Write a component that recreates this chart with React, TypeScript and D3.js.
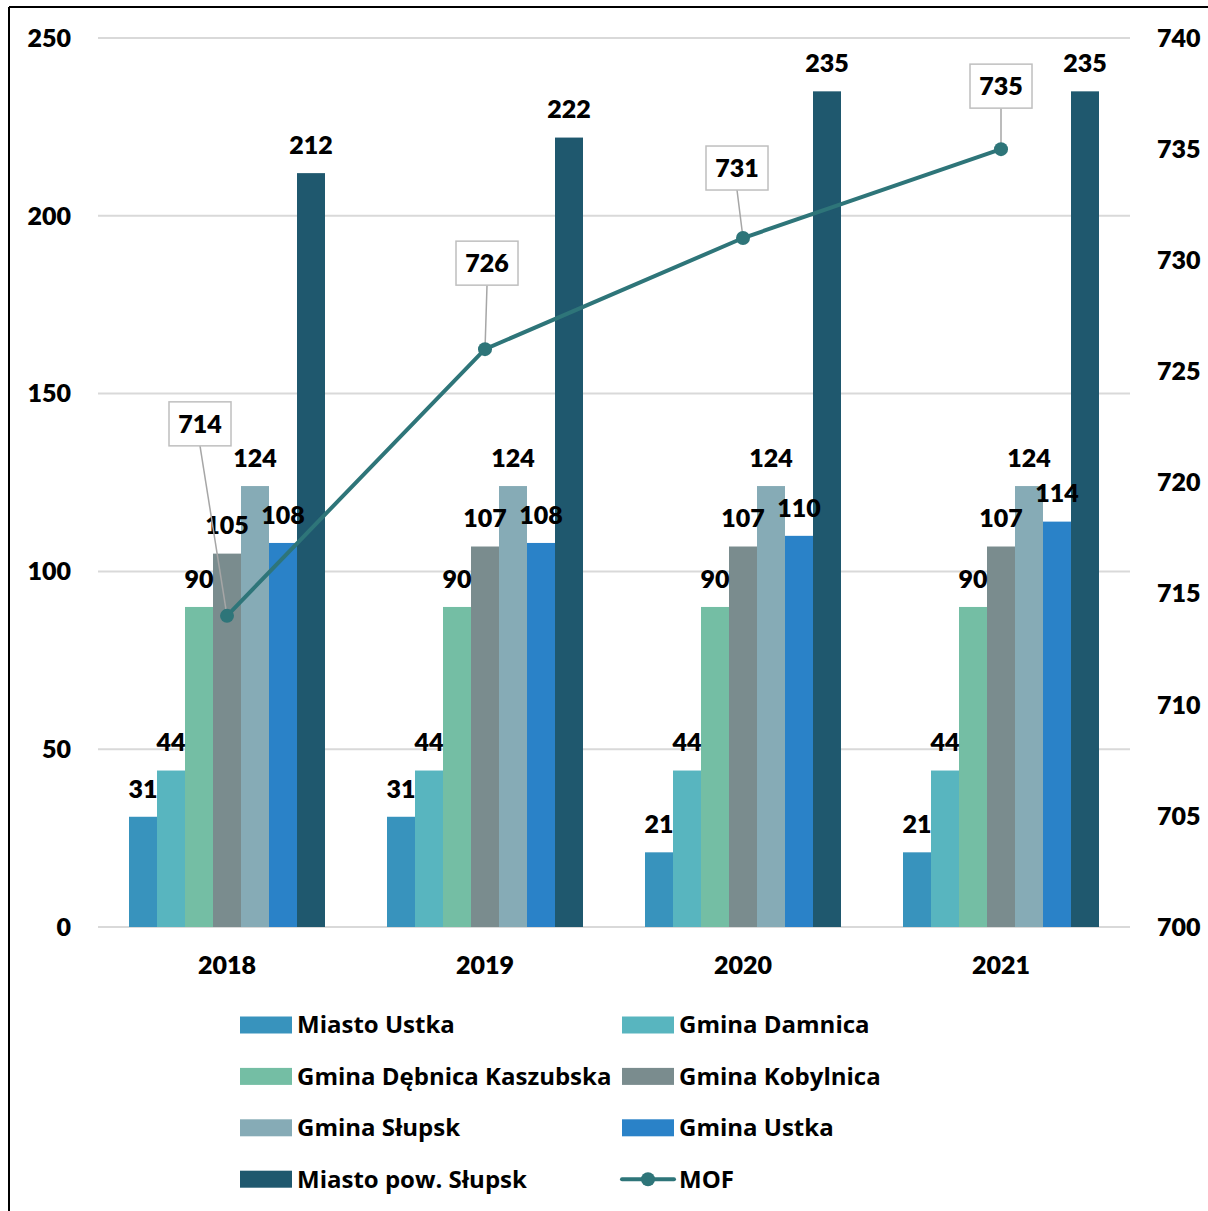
import React from "react";
import * as d3 from "d3";

const years = ["2018", "2019", "2020", "2021"];
const seriesNames = [
  "Miasto Ustka",
  "Gmina Damnica",
  "Gmina Dębnica Kaszubska",
  "Gmina Kobylnica",
  "Gmina Słupsk",
  "Gmina Ustka",
  "Miasto pow. Słupsk",
];
const miastoUstka = [31, 31, 21, 21];
const gminaDamnica = [44, 44, 44, 44];
const gminaDebnica = [90, 90, 90, 90];
const gminaKobylnica = [105, 107, 107, 107];
const gminaSlupsk = [124, 124, 124, 124];
const gminaUstka = [108, 108, 110, 114];
const miastoPowSlupsk = [212, 222, 235, 235];
const mof = [714, 726, 731, 735];
const leftTicks = [0, 50, 100, 150, 200, 250];
const rightTicks = [700, 705, 710, 715, 720, 725, 730, 735, 740];

const seriesValues = [miastoUstka, gminaDamnica, gminaDebnica, gminaKobylnica, gminaSlupsk, gminaUstka, miastoPowSlupsk];
const colors = ["#3893bd", "#58b5bf", "#74bea4", "#7a8c8e", "#86abb6", "#2a82c8", "#1f586e"];
const lineColor = "#2e7579";

const W = 1208;
const H = 1211;
const FONT = "Lato, 'Open Sans', sans-serif";
const LEGEND_FONT = "'Open Sans', Lato, sans-serif";

export default function App() {
  const x0 = d3.scaleBand<string>().domain(years).range([98, 1130]).paddingInner(0).paddingOuter(0);
  const groupW = 196;
  const x1 = d3.scaleBand<string>().domain(seriesNames).range([0, groupW]).padding(0);
  const yL = d3.scaleLinear().domain([0, 250]).range([927, 38]);
  const yR = d3.scaleLinear().domain([700, 740]).range([927, 38]);
  const cx = (y: string) => (x0(y) ?? 0) + x0.bandwidth() / 2;

  const line = d3
    .line<number>()
    .x((_, i) => cx(years[i]))
    .y((v) => yR(v));

  const boxOffsets = [
    { dx: -27, dy: -192 },
    { dx: 2, dy: -86 },
    { dx: -6, dy: -70 },
    { dx: 0, dy: -63 },
  ];

  const legendItems = [...seriesNames.map((n, i) => ({ name: n, color: colors[i], line: false })), { name: "MOF", color: lineColor, line: true }];

  return (
    <div style={{ position: "absolute", left: 0, top: 0 }}>
      <svg width={W} height={H} style={{ display: "block", background: "#fff" }} fontFamily={FONT}>
        {/* frame */}
        <line x1={9} y1={7} x2={W} y2={7} stroke="#000" strokeWidth={2} />
        <line x1={9} y1={7} x2={9} y2={H} stroke="#000" strokeWidth={2} />

        {/* gridlines */}
        {leftTicks.map((t) => (
          <line key={t} x1={98} x2={1130} y1={yL(t)} y2={yL(t)} stroke="#d9d9d9" strokeWidth={2} />
        ))}
        {/* left ticks */}
        {leftTicks.map((t) => (
          <text key={"l" + t} x={71} y={yL(t)} dy="0.35em" textAnchor="end" fontSize={25} fontWeight={800} fill="#000">
            {t}
          </text>
        ))}
        {rightTicks.map((t) => (
          <text key={"r" + t} x={1157} y={yR(t)} dy="0.35em" textAnchor="start" fontSize={25} fontWeight={800} fill="#000">
            {t}
          </text>
        ))}
        {/* year labels */}
        {years.map((y) => (
          <text key={"y" + y} x={cx(y)} y={965} dy="0.35em" textAnchor="middle" fontSize={25} fontWeight={800} fill="#000">
            {y}
          </text>
        ))}

        {/* bars */}
        {years.map((y, yi) => {
          const gx = cx(y) - groupW / 2;
          return (
            <g key={"g" + y}>
              {seriesNames.map((s, si) => {
                const v = seriesValues[si][yi];
                return (
                  <rect
                    key={s}
                    x={gx + (x1(s) ?? 0)}
                    y={yL(v)}
                    width={x1.bandwidth()}
                    height={yL(0) - yL(v)}
                    fill={colors[si]}
                  />
                );
              })}
            </g>
          );
        })}

        {/* bar labels */}
        {years.map((y, yi) => {
          const gx = cx(y) - groupW / 2;
          return (
            <g key={"bl" + y}>
              {seriesNames.map((s, si) => {
                const v = seriesValues[si][yi];
                return (
                  <text
                    key={s}
                    x={gx + (x1(s) ?? 0) + x1.bandwidth() / 2}
                    y={yL(v) - 28}
                    dy="0.35em"
                    textAnchor="middle"
                    fontSize={25}
                    fontWeight={800}
                    fill="#000"
                  >
                    {v}
                  </text>
                );
              })}
            </g>
          );
        })}

        {/* MOF line */}
        <path d={line(mof) ?? ""} fill="none" stroke={lineColor} strokeWidth={4} />

        {/* callouts */}
        {mof.map((v, i) => {
          const px = cx(years[i]);
          const py = yR(v);
          const bx = px + boxOffsets[i].dx;
          const by = py + boxOffsets[i].dy;
          return (
            <g key={"c" + i}>
              <line x1={bx} y1={by + 22} x2={px} y2={py} stroke="#a6a6a6" strokeWidth={1.5} />
              <rect x={bx - 31} y={by - 22} width={62} height={44} fill="#fff" stroke="#bfbfbf" strokeWidth={1.5} />
              <text x={bx} y={by} dy="0.35em" textAnchor="middle" fontSize={25} fontWeight={800} fill="#000">
                {v}
              </text>
            </g>
          );
        })}
        {mof.map((v, i) => (
          <circle key={"m" + i} cx={cx(years[i])} cy={yR(v)} r={7} fill={lineColor} />
        ))}

        {/* legend */}
        {legendItems.map((it, i) => {
          const col = i % 2;
          const row = Math.floor(i / 2);
          const sx = col === 0 ? 240 : 622;
          const ry = 1025 + row * 51.4;
          return (
            <g key={"lg" + i}>
              {it.line ? (
                <g>
                  <line x1={sx} x2={sx + 52} y1={ry} y2={ry} stroke={it.color} strokeWidth={4} strokeLinecap="round" />
                  <circle cx={sx + 26} cy={ry} r={7} fill={it.color} />
                </g>
              ) : (
                <rect x={sx} y={ry - 8.5} width={52} height={17} fill={it.color} />
              )}
              <text x={sx + 57} y={ry} dy="0.35em" fontSize={24} fontWeight={700} fill="#000" fontFamily={LEGEND_FONT}>
                {it.name}
              </text>
            </g>
          );
        })}
      </svg>
    </div>
  );
}
